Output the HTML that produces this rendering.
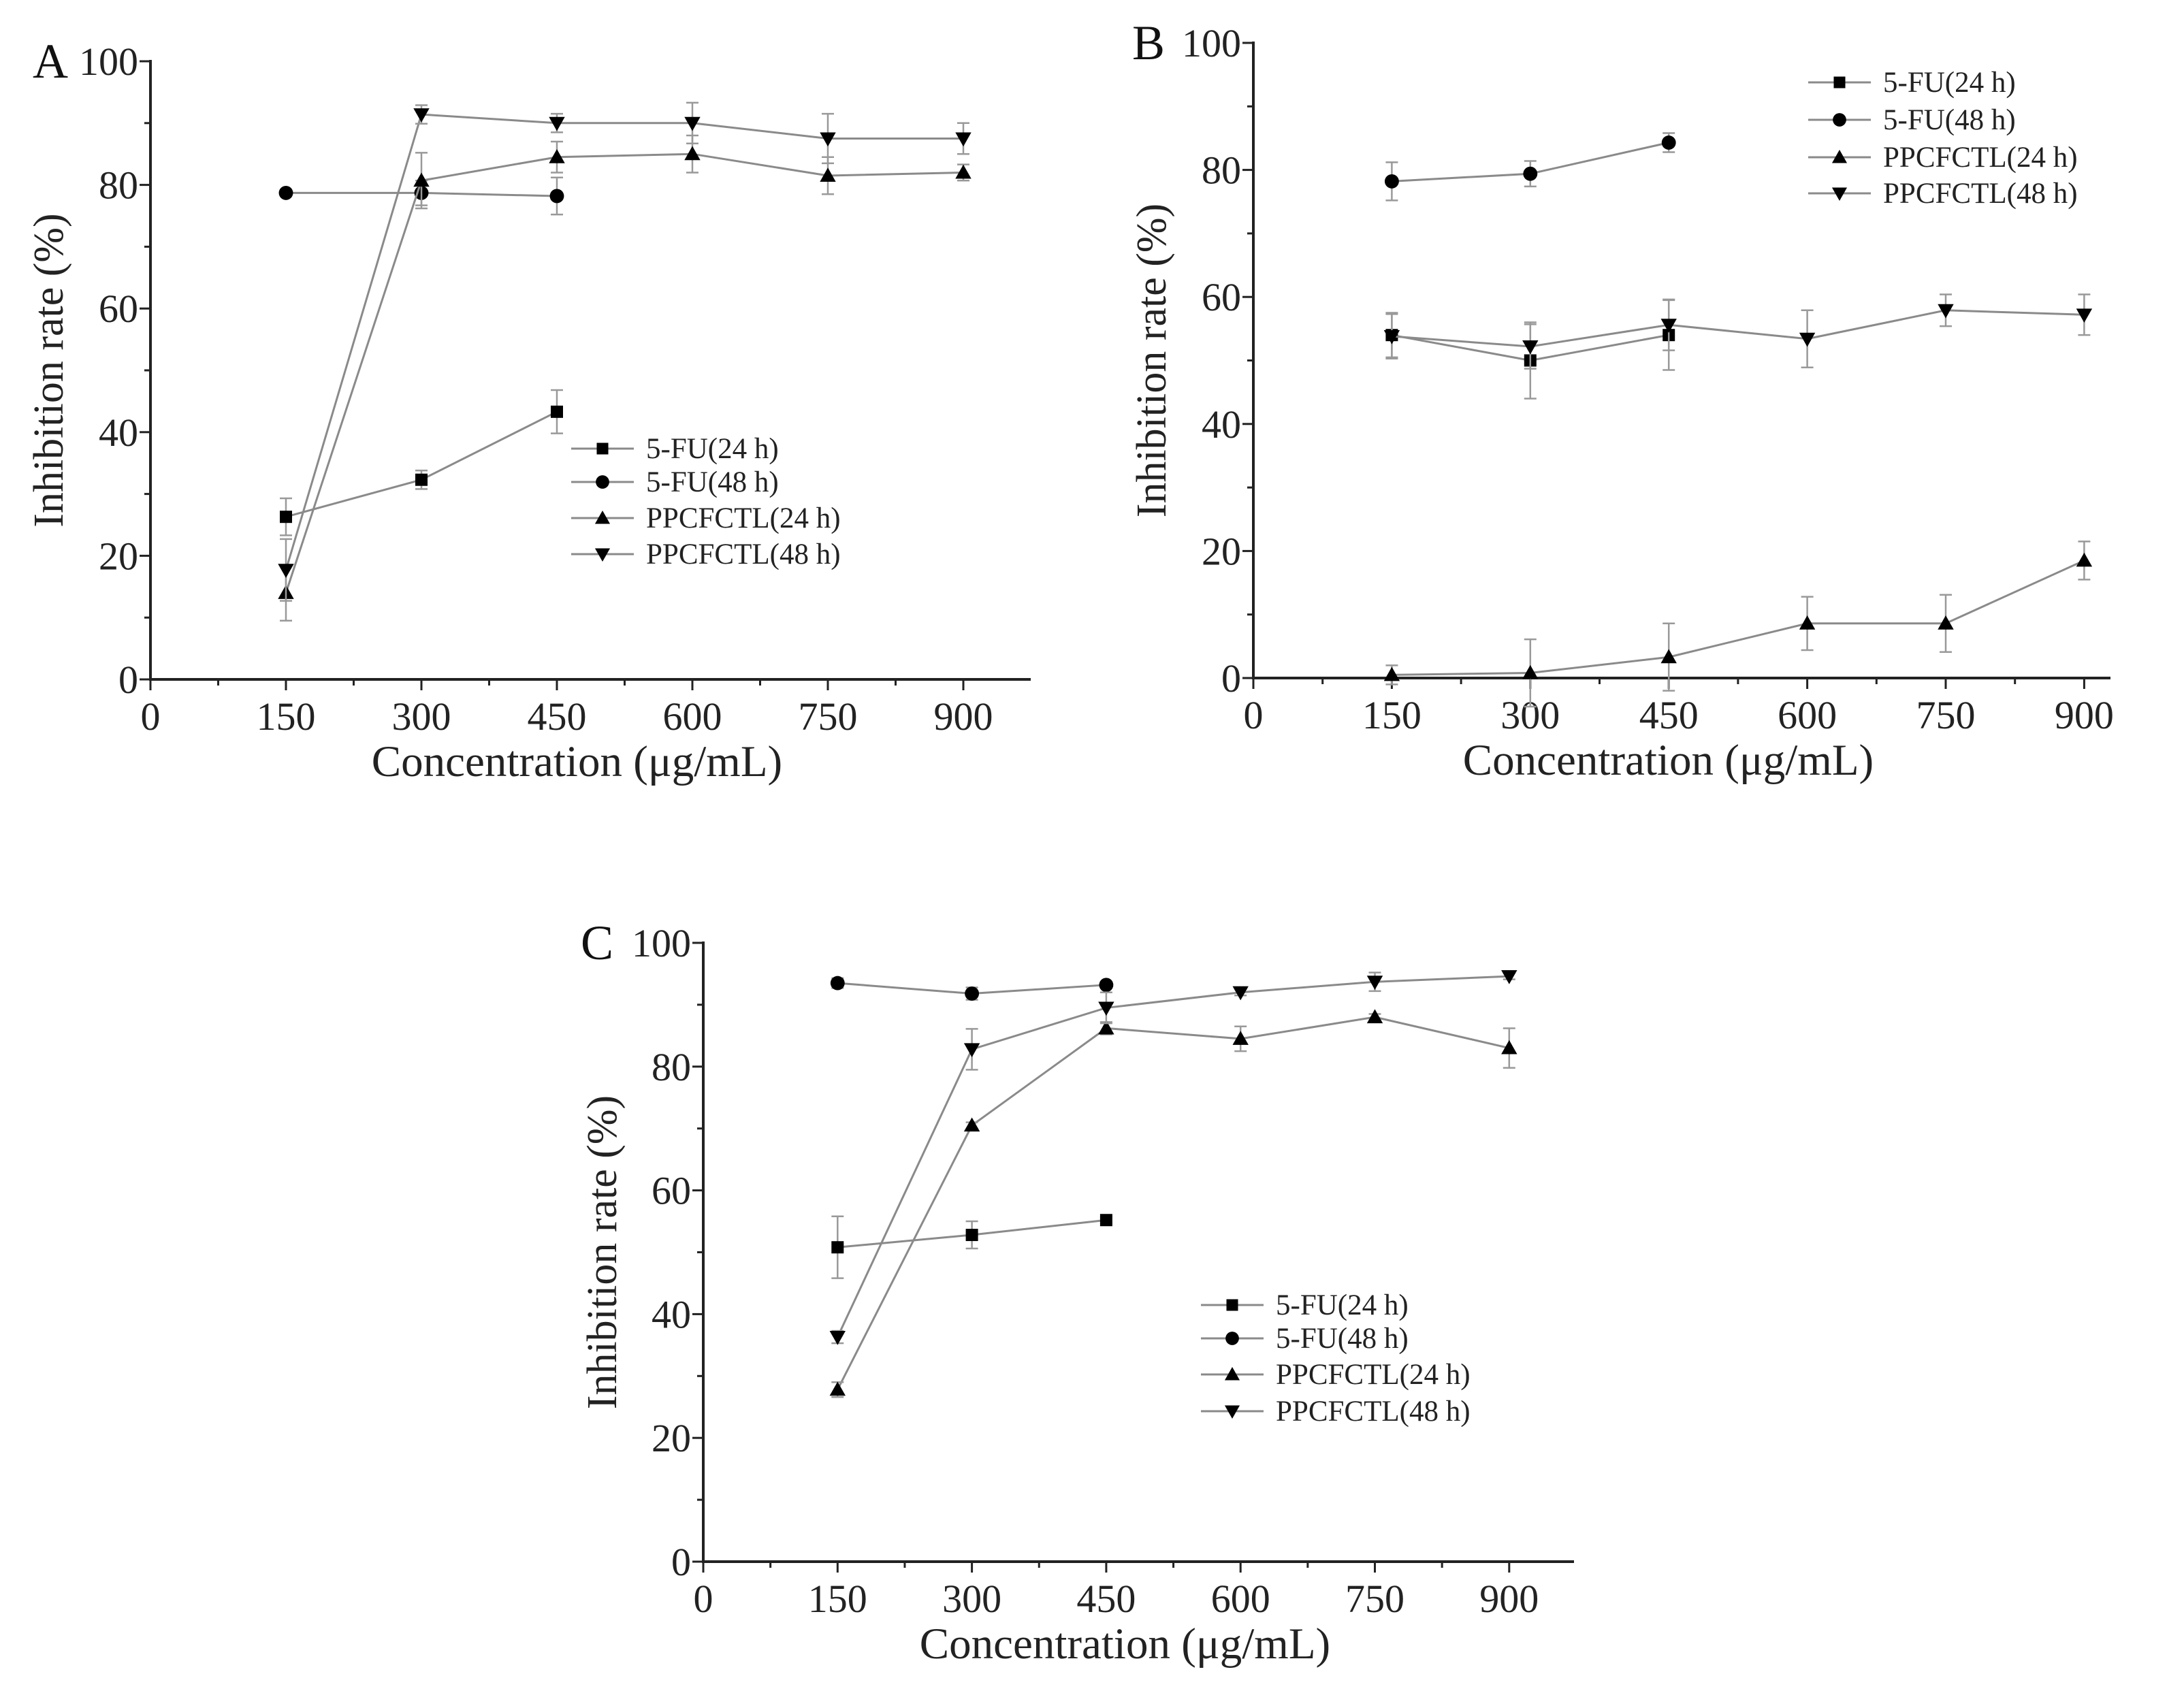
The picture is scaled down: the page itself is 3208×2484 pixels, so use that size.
<!DOCTYPE html>
<html><head><meta charset="utf-8"><style>
html,body{margin:0;padding:0;background:#fff;}
svg{display:block;font-family:"Liberation Serif",serif;}
</style></head><body>
<svg id="fig" width="3208" height="2484" viewBox="0 0 3208 2484" xmlns="http://www.w3.org/2000/svg"></svg>
<script>
const xCats=[150,300,450,600,750,900];
const xTicks=[0,150,300,450,600,750,900];
const yTicks=[0,20,40,60,80,100];
const seriesNames=["5-FU(24 h)","5-FU(48 h)","PPCFCTL(24 h)","PPCFCTL(48 h)"];
const markers=["square","circle","up","down"];
// Panel A
const aFU24=[26.3,32.3,43.3], aFU24e=[3,1.5,3.5];
const aFU48=[78.7,78.7,78.2], aFU48e=[0.5,2,3];
const aPP24=[14,80.7,84.5,85,81.5,82], aPP24e=[4.5,4.5,2.5,3,3,1.3];
const aPP48=[17.7,91.4,90,90,87.5,87.5], aPP48e=[5,1.5,1.5,3.3,4,2.5];
// Panel B
const bFU24=[54,50,54], bFU24e=[3.5,6,5.5];
const bFU48=[78.2,79.4,84.3], bFU48e=[3,2,1.5];
const bPP24=[0.5,0.8,3.3,8.6,8.6,18.5], bPP24e=[1.5,5.3,5.3,4.2,4.5,3];
const bPP48=[53.8,52.2,55.6,53.4,57.9,57.2], bPP48e=[3.5,3.5,4,4.5,2.5,3.2];
// Panel C
const cFU24=[50.8,52.8,55.2], cFU24e=[5,2.2,0.5];
const cFU48=[93.5,91.8,93.2], cFU48e=[0.8,1,0.5];
const cPP24=[27.8,70.5,86.2,84.5,88,83], cPP24e=[1.2,0.5,1,2,0.5,3.2];
const cPP48=[36.3,82.8,89.5,92,93.7,94.6], cPP48e=[1,3.3,2.5,0.5,1.5,0.5];

const NS="http://www.w3.org/2000/svg";
const svg=document.getElementById('fig');
function mk(tag,attrs,parent,text){const e=document.createElementNS(NS,tag);for(const k in attrs)e.setAttribute(k,attrs[k]);if(text!==undefined)e.textContent=text;(parent||svg).appendChild(e);return e;}

function marker(g,type,cx,cy,s){
  let e;
  if(type==="square") e=mk('rect',{x:cx-s/2,y:cy-s/2,width:s,height:s,fill:'#000'},g);
  else if(type==="circle") e=mk('circle',{cx:cx,cy:cy,r:s*0.58,fill:'#000'},g);
  else if(type==="up") e=mk('polygon',{points:`${cx},${cy-s*0.65} ${cx-s*0.65},${cy+s*0.5} ${cx+s*0.65},${cy+s*0.5}`,fill:'#000'},g);
  else e=mk('polygon',{points:`${cx},${cy+s*0.65} ${cx-s*0.65},${cy-s*0.5} ${cx+s*0.65},${cy-s*0.5}`,fill:'#000'},g);
  return e;
}

function panel(p){
  const g=mk('g',{});
  
  
  const sx=v=>p.x0+v/150*p.per150;
  const sy=v=>p.y0-(v/100)*(p.y0-p.y100);
  const ax=mk('g',{},g);
  
  
  mk('line',{x1:p.x0,y1:p.y100-2,x2:p.x0,y2:p.y0+2,stroke:'#222','stroke-width':4},ax);
  mk('line',{x1:p.x0-2,y1:p.y0,x2:p.xEnd,y2:p.y0,stroke:'#222','stroke-width':4},ax);
  for(let v=0;v<=100;v+=10){
    const major=v%20===0;
    mk('line',{x1:p.x0,y1:sy(v),x2:p.x0-(major?16:9),y2:sy(v),stroke:'#222','stroke-width':3},ax);
  }
  yTicks.forEach(v=>{
    const t=mk('text',{x:p.x0-18,y:sy(v)+20,'text-anchor':'end','font-size':58,fill:'#222'},ax,String(v));
    
    
  });
  for(let v=0;sx(v)<=p.xEnd;v+=75){
    const major=v%150===0;
    mk('line',{x1:sx(v),y1:p.y0,x2:sx(v),y2:p.y0+(major?16:9),stroke:'#222','stroke-width':3},ax);
  }
  xTicks.forEach(v=>{
    const t=mk('text',{x:sx(v),y:p.y0+74,'text-anchor':'middle','font-size':58,fill:'#222'},ax,String(v));
    
    
  });
  const xt=mk('text',{x:(p.x0+p.xEnd)/2-20,y:p.y0+142,'text-anchor':'middle','font-size':65,fill:'#222'},g,'Concentration (μg/mL)');
  
  
  const yc=(p.y0+p.y100)/2;
  const yt=mk('text',{x:p.ytX,y:yc,'text-anchor':'middle','font-size':62,fill:'#222',transform:`rotate(-90 ${p.ytX} ${yc})`},g,'Inhibition rate (%)');
  
  
  const lt=mk('text',{x:p.letX,y:p.y100+24,'font-size':72,fill:'#111'},g,p.id);
  
  
  p.series.forEach((s,i)=>{
    const sg=mk('g',{},g);
    
    
    const pts=s.v.map((v,j)=>sx(xCats[j])+','+sy(v)).join(' ');
    mk('polyline',{points:pts,fill:'none',stroke:'#8a8a8a','stroke-width':3},sg);
    s.v.forEach((v,j)=>{
      const x=sx(xCats[j]);
      const eb=mk('path',{d:`M${x},${sy(v-s.e[j])}V${sy(v+s.e[j])}M${x-9},${sy(v-s.e[j])}H${x+9}M${x-9},${sy(v+s.e[j])}H${x+9}`,stroke:'#999','stroke-width':2.5,fill:'none'},sg);
      
      
      const m=marker(sg,markers[i],x,sy(v),18);
      
      
    });
  });
  const lg=mk('g',{},g);
  
  
  seriesNames.forEach((n,i)=>{
    const ly=p.legY[i];
    const le=mk('g',{},lg);
    
    
    mk('line',{x1:p.legX,y1:ly,x2:p.legX+92,y2:ly,stroke:'#8a8a8a','stroke-width':3},le);
    marker(le,markers[i],p.legX+46,ly,17);
    mk('text',{x:p.legX+110,y:ly+14,'font-size':43,fill:'#222'},le,n);
  });
}

panel({id:'A',x0:221,per150:199,y0:998,y100:90,xEnd:1514,ytX:92,letX:48,legX:839,legY:[659,708,761,814],
  series:[{v:aFU24,e:aFU24e},{v:aFU48,e:aFU48e},{v:aPP24,e:aPP24e},{v:aPP48,e:aPP48e}]});
panel({id:'B',x0:1841,per150:203.4,y0:996,y100:63,xEnd:3100,ytX:1712,letX:1663,legX:2656,legY:[121,176,231,284],
  series:[{v:bFU24,e:bFU24e},{v:bFU48,e:bFU48e},{v:bPP24,e:bPP24e},{v:bPP48,e:bPP48e}]});
panel({id:'C',x0:1033,per150:197.3,y0:2294,y100:1385,xEnd:2312,ytX:905,letX:853,legX:1764,legY:[1917,1966,2019,2073],
  series:[{v:cFU24,e:cFU24e},{v:cFU48,e:cFU48e},{v:cPP24,e:cPP24e},{v:cPP48,e:cPP48e}]});
</script>
</body></html>
